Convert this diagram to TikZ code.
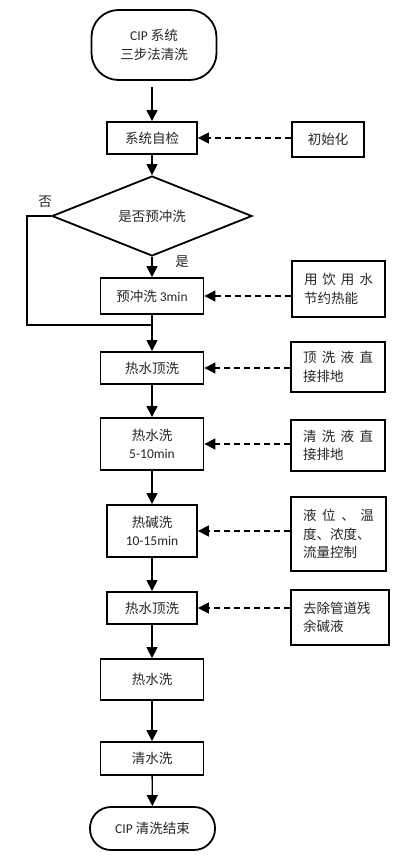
\documentclass[tikz,border=0pt]{standalone}
\usepackage{fontspec}
\setmainfont{Noto Sans CJK SC}
\newfontfamily\latinfont{Carlito}
\usetikzlibrary{shapes.geometric,arrows.meta}
\newcommand{\spreadline}[1]{\makebox[\hsize][s]{#1}}
\tikzset{
  stepbox/.style={draw,line width=1.8pt,inner sep=0pt,align=center},
  notebox/.style={draw,line width=1.5pt,inner xsep=12pt,inner ysep=0pt,align=left},
  terminal/.style={draw,line width=1.8pt,inner sep=0pt,align=center,minimum width=125pt},
  decision/.style={draw,diamond,line width=1.8pt,inner sep=0pt,minimum width=200pt,minimum height=53pt},
  flow/.style={->,line width=1.3pt},
  feed/.style={->,line width=1.5pt,dash pattern=on 6pt off 4pt},
}

\begin{document}
\begin{tikzpicture}[x=1pt,y=-1pt,font=\fontsize{13.5pt}{18.5pt}\selectfont,text=black!85,>={Triangle[length=11pt,width=11pt]}]
\useasboundingbox (0,0) rectangle (415,860);
\node[terminal,minimum height=70pt,rounded corners=27pt] (start) at (154,45) {{\latinfont CIP} 系统\\三步法清洗};
\node[stepbox,minimum width=90pt,minimum height=32pt] (selfcheck) at (152,138) {系统自检};
\node[notebox,inner xsep=0pt,align=center,minimum width=72pt,minimum height=35pt] (init) at (328,139.5) {初始化};
\node[decision] (precheck) at (152,216) {是否预冲洗};
\node (no) at (45,202) {否};
\node (yes) at (182,262) {是};
\coordinate (noturn) at (27,216);
\coordinate (merge) at (152,325);
\node[stepbox,minimum width=103pt,minimum height=36pt] (prerinse) at (152,296) {预冲洗 {\latinfont 3min}};
\node[notebox,text width=69pt,minimum height=56pt] (water) at (338.5,289) {\spreadline{用\hfill 饮\hfill 用\hfill 水}\\节约热能};
\node[stepbox,minimum width=103pt,minimum height=32pt] (hottop) at (152,368) {热水顶洗};
\node[notebox,text width=70pt,minimum height=50pt] (drainA) at (338,367) {\spreadline{顶\hfill 洗\hfill 液\hfill 直}\\接排地};
\node[stepbox,minimum width=103pt,minimum height=52pt] (hotwash) at (152,444) {热水洗\\{\latinfont 5-10min}};
\node[notebox,text width=70pt,minimum height=51pt] (drainB) at (338,445.5) {\spreadline{清\hfill 洗\hfill 液\hfill 直}\\接排地};
\node[stepbox,minimum width=90pt,minimum height=52pt] (alkali) at (152,531) {热碱洗\\{\latinfont 10-15min}};
\node[notebox,text width=71pt,minimum height=74pt] (control) at (338.5,534) {\spreadline{液\hfill 位\hfill 、\hfill 温}\\度、浓度、\\流量控制};
\node[stepbox,minimum width=90pt,minimum height=32pt] (hottopB) at (152,608) {热水顶洗};
\node[notebox,text width=74pt,minimum height=55pt] (residue) at (340,617.5) {去除管道残\\余碱液};
\node[stepbox,minimum width=103pt,minimum height=41pt] (hotwashB) at (152,679.5) {热水洗};
\node[stepbox,minimum width=103pt,minimum height=33pt] (rinse) at (152,758.5) {清水洗};
\node[terminal,minimum height=43pt,rounded corners=21pt] (finish) at (152.5,828.5) {{\latinfont CIP} 清洗结束};

% main flow
\draw[flow,shorten <=6pt] (start.south -| selfcheck.north) -- (selfcheck.north);
\draw[flow] (selfcheck) -- (precheck);
\draw[flow] (precheck) -- (prerinse);
\draw[flow] (prerinse) -- (hottop);
\draw[line width=1.3pt] (precheck.west) -- (noturn) |- (merge);
\draw[flow] (hottop) -- (hotwash);
\draw[flow] (hotwash) -- (alkali);
\draw[flow] (alkali) -- (hottopB);
\draw[flow] (hottopB) -- (hotwashB);
\draw[flow] (hotwashB) -- (rinse);
\draw[flow] (rinse) -- (finish);

% side notes
\draw[feed] (init.west |- selfcheck) -- (selfcheck.east);
\draw[feed] (water.west |- prerinse) -- (prerinse.east);
\draw[feed] (drainA.west |- hottop) -- (hottop.east);
\draw[feed] (drainB.west |- hotwash) -- (hotwash.east);
\draw[feed] (control.west |- alkali) -- (alkali.east);
\draw[feed] (residue.west |- hottopB) -- (hottopB.east);
\end{tikzpicture}
\end{document}
